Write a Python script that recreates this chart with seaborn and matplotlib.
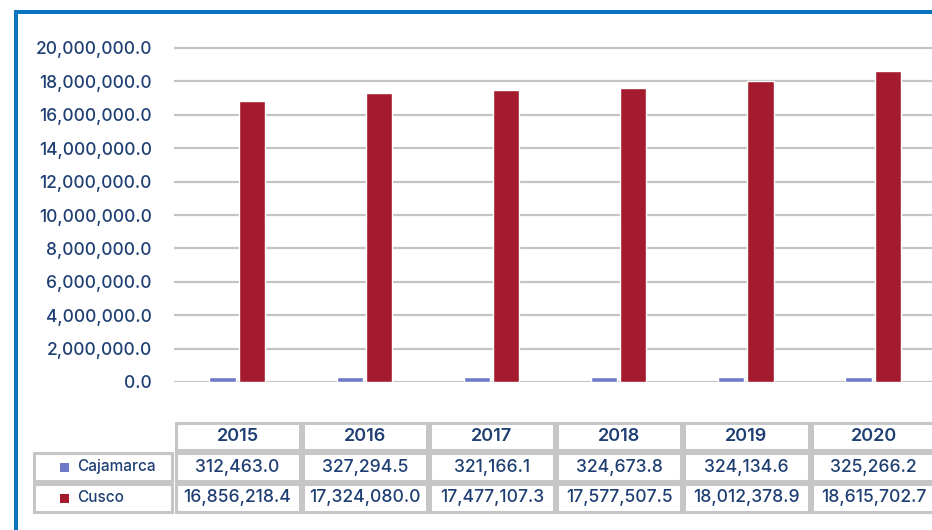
import seaborn as sns
import matplotlib.pyplot as plt
import matplotlib.patches as mpatches
import matplotlib.ticker as mticker
import pandas as pd

# DATA
years = ['2015', '2016', '2017', '2018', '2019', '2020']
regions = ['Cajamarca', 'Cusco']
cajamarca = [312463.0, 327294.5, 321166.1, 324673.8, 324134.6, 325266.2]
cusco = [16856218.4, 17324080.0, 17477107.3, 17577507.5, 18012378.9, 18615702.7]
y_ticks = [0, 2e6, 4e6, 6e6, 8e6, 10e6, 12e6, 14e6, 16e6, 18e6, 20e6]

colors = {'Cajamarca': '#6F7BC9', 'Cusco': '#A51B2E'}
text_color = '#1F3F73'
W, H = 932, 530

# long format for seaborn
df = pd.DataFrame({
    'year': years * 2,
    'region': ['Cajamarca'] * len(years) + ['Cusco'] * len(years),
    'value': cajamarca + cusco,
})

sns.set_theme(style='white')
plt.rcParams['font.family'] = ['Inter', 'DejaVu Sans']

fig = plt.figure(figsize=(W / 100, H / 100), dpi=100)
fig.patch.set_facecolor('white')

# pixel helpers (top-left origin)
def fx(px):
    return px / W

def fy(py):
    return 1 - py / H

# PLOT AREA
col_w = 127.2
ax_left = 173.5
y0, y20 = 382, 48
ymax = 20.5e6
ax_top = y0 - (y0 - y20) * ymax / 20e6
ax = fig.add_axes([fx(ax_left), fy(y0), col_w * 6 / W, (y0 - ax_top) / H])

sns.barplot(data=df, x='year', y='value', hue='region', hue_order=regions,
            palette=colors, width=0.46, gap=0.1, saturation=1,
            legend=False, ax=ax)

ax.set_ylim(0, ymax)
ax.set_xlim(-0.5, len(years) - 0.5)
ax.set_yticks(y_ticks)
ax.yaxis.set_major_formatter(mticker.FuncFormatter(lambda v, p: f"{v:,.1f}"))
ax.yaxis.grid(True, color='#C4C4C4', linewidth=1.6)
ax.set_axisbelow(True)
ax.tick_params(axis='y', length=0, pad=15.5, labelsize=12.5, labelcolor=text_color)
ax.tick_params(axis='x', length=0, labelbottom=False)
for lbl in ax.get_yticklabels():
    lbl.set_fontweight('medium')
ax.set_xlabel('')
ax.set_ylabel('')
for s in ax.spines.values():
    s.set_visible(False)

# DATA TABLE
edge = '#C6C6C6'
rows_y = [(423, 450), (453, 481), (484, 512)]
label_x = (34, 172)

def cell(x1, y1, x2, y2):
    fig.add_artist(mpatches.Rectangle((fx(x1), fy(y2)), fx(x2) - fx(x1), fy(y1) - fy(y2),
                                      transform=fig.transFigure, facecolor='white',
                                      edgecolor=edge, linewidth=2.2))

# header
for i, yr in enumerate(years):
    x1 = ax_left + 2 + i * col_w
    x2 = x1 + col_w - 3
    cell(x1, rows_y[0][0], x2, rows_y[0][1])
    fig.text(fx((x1 + x2) / 2), fy(sum(rows_y[0]) / 2), yr, ha='center', va='center',
             fontsize=13, color=text_color, fontweight='semibold')

# series rows
for r, (name, vals) in enumerate(zip(regions, [cajamarca, cusco])):
    ya, yb = rows_y[r + 1]
    yc = (ya + yb) / 2
    cell(label_x[0], ya, label_x[1], yb)
    fig.add_artist(mpatches.Rectangle((fx(60), fy(yc + 4.5)), fx(9), 9 / H,
                                      transform=fig.transFigure,
                                      facecolor=colors[name], edgecolor='none'))
    fig.text(fx(77), fy(yc), name, ha='left', va='center', fontsize=11,
             color=text_color, fontweight='medium')
    for i, v in enumerate(vals):
        x1 = ax_left + 2 + i * col_w
        x2 = x1 + col_w - 3
        cell(x1, ya, x2, yb)
        fig.text(fx((x1 + x2) / 2), fy(yc), f"{v:,.1f}", ha='center', va='center',
                 fontsize=12.6, color=text_color, fontweight='medium')

# blue frame (top and left)
frame = '#0B74BF'
fig.add_artist(mpatches.Rectangle((fx(14), fy(14)), 1, 4 / H, transform=fig.transFigure,
                                  facecolor=frame, edgecolor='none'))
fig.add_artist(mpatches.Rectangle((fx(14), 0), fx(4), fy(10), transform=fig.transFigure,
                                  facecolor=frame, edgecolor='none'))

fig.savefig('out.png', dpi=100, facecolor='white')
